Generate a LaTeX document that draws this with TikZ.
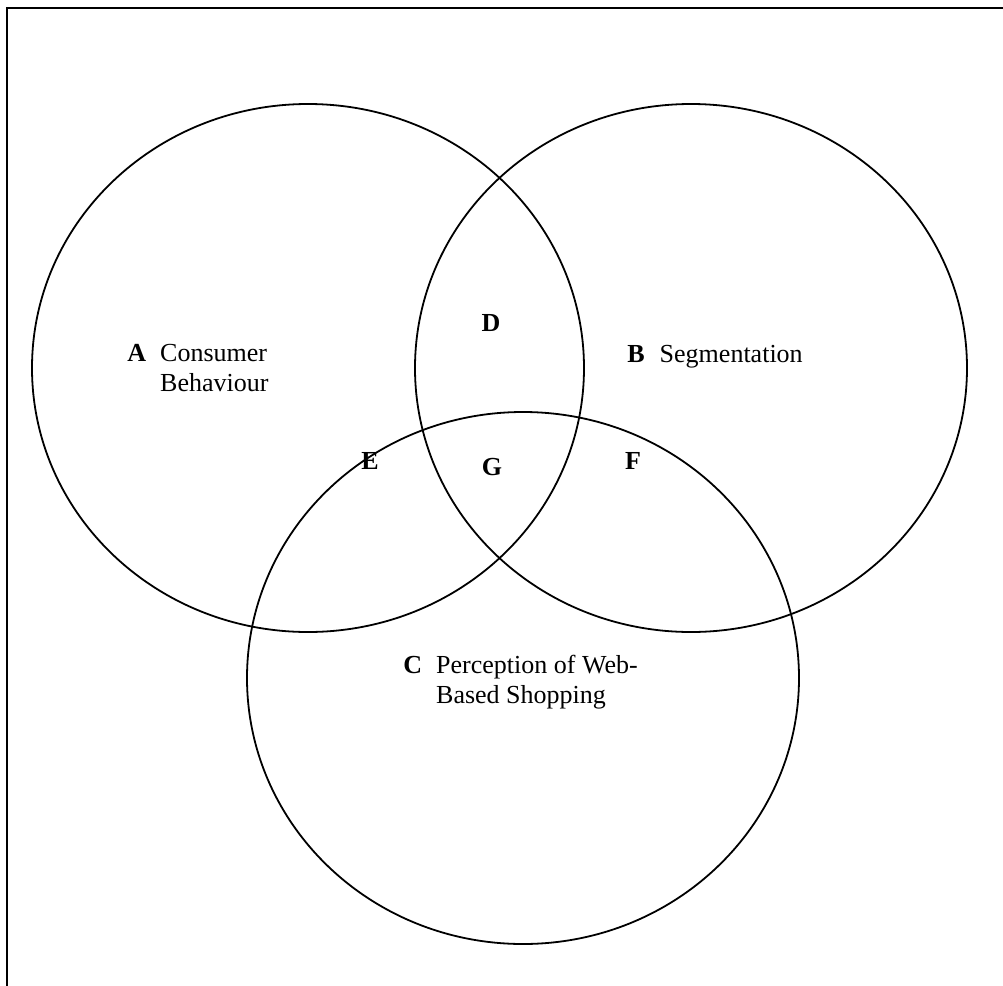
\documentclass[tikz,border=0pt]{standalone}
\usepackage{fontspec}
\setmainfont{Liberation Serif}
\usepackage{tikz}
\usetikzlibrary{positioning}

\begin{document}
\begin{tikzpicture}[x=0.5pt,y=-0.5pt,
	setcircle/.style={
		draw,
		line width=0.9pt,
		x radius=138pt,
		y radius=132pt
	},
	zone/.style={
		font=\bfseries,
		anchor=base,
		inner sep=0pt
	},
	setlabel/.style={
		anchor=base west,
		inner sep=0pt
	}]

	\useasboundingbox (0,0) rectangle (1003,986);
	\fontsize{13}{15}\selectfont

	% frame
	\draw [line width=1.3pt] (7,986) -- (7,8) -- (1003,8);

	\coordinate (cA) at (308, 368);
	\coordinate (cB) at (691, 368);
	\coordinate (cC) at (523, 678);

	\draw [setcircle] (cA) ellipse [];
	\draw [setcircle] (cB) ellipse [];
	\draw [setcircle, y radius=133pt] (cC) ellipse [];

	\node[setlabel] (labA) at (127, 361) {\begin{tabular}[t]{@{}l@{\hspace{7pt}}l@{}}\textbf{A} & Consumer\\ & Behaviour\end{tabular}};
	\node[setlabel] (labB) at (627, 362) {\begin{tabular}[t]{@{}l@{\hspace{7.5pt}}l@{}}\textbf{B} & Segmentation\end{tabular}};
	\node[setlabel] (labC) at (403, 673) {\begin{tabular}[t]{@{}l@{\hspace{7pt}}l@{}}\textbf{C} & Perception of Web-\\ & Based Shopping\end{tabular}};

	\node[zone] (labD) at (491, 331) {D};
	\node[zone] (labE) at (370, 469) {E};
	\node[zone] (labF) at (633, 469) {F};
	\node[zone] (labG) at (492, 475) {G};
\end{tikzpicture}
\end{document}
